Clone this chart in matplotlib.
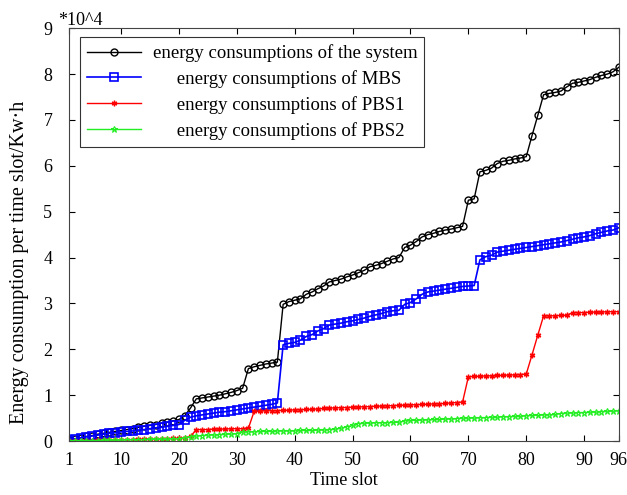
import numpy as np
import matplotlib.pyplot as plt
from matplotlib.ticker import FixedLocator

plt.rcParams['font.family'] = ['Liberation Serif', 'DejaVu Serif']

# time slots 1..96
t = np.arange(1, 97)

# energy values (x 10^4 Kw*h)
system = [0.03, 0.05, 0.07, 0.10, 0.12, 0.15, 0.17, 0.19, 0.21, 0.23,
          0.25, 0.27, 0.30, 0.32, 0.34, 0.36, 0.39, 0.41, 0.44, 0.47,
          0.55, 0.72, 0.92, 0.94, 0.96, 0.98, 1.00, 1.03, 1.06, 1.10,
          1.15, 1.58, 1.62, 1.65, 1.68, 1.70, 1.72, 2.98, 3.04, 3.07,
          3.10, 3.20, 3.25, 3.32, 3.38, 3.47, 3.50, 3.53, 3.58, 3.62,
          3.67, 3.72, 3.80, 3.83, 3.87, 3.92, 3.97, 4.00, 4.22, 4.27,
          4.35, 4.45, 4.50, 4.53, 4.57, 4.60, 4.62, 4.65, 4.68, 5.25,
          5.28, 5.87, 5.90, 5.95, 6.05, 6.10, 6.12, 6.15, 6.17, 6.20,
          6.66, 7.10, 7.55, 7.58, 7.60, 7.63, 7.72, 7.80, 7.82, 7.85,
          7.88, 7.93, 7.97, 8.00, 8.05, 8.15]

mbs = [0.03, 0.05, 0.07, 0.09, 0.11, 0.13, 0.15, 0.17, 0.18, 0.20,
       0.21, 0.22, 0.24, 0.25, 0.27, 0.29, 0.30, 0.32, 0.34, 0.36,
       0.45, 0.52, 0.55, 0.57, 0.59, 0.61, 0.63, 0.64, 0.66, 0.68,
       0.70, 0.72, 0.74, 0.76, 0.78, 0.80, 0.83, 2.10, 2.13, 2.15,
       2.20, 2.28, 2.32, 2.40, 2.45, 2.53, 2.55, 2.57, 2.60, 2.62,
       2.65, 2.68, 2.72, 2.75, 2.78, 2.82, 2.84, 2.85, 2.98, 3.02,
       3.10, 3.20, 3.25, 3.27, 3.29, 3.31, 3.33, 3.35, 3.37, 3.38,
       3.39, 3.95, 4.02, 4.05, 4.12, 4.14, 4.16, 4.18, 4.20, 4.22,
       4.24, 4.26, 4.28, 4.30, 4.32, 4.34, 4.37, 4.40, 4.43, 4.45,
       4.48, 4.52, 4.55, 4.58, 4.60, 4.65]

pbs1 = [0.00, 0.00, 0.01, 0.01, 0.01, 0.02, 0.02, 0.02, 0.02, 0.03,
        0.03, 0.03, 0.04, 0.04, 0.04, 0.05, 0.05, 0.05, 0.06, 0.06,
        0.07, 0.10, 0.25, 0.25, 0.25, 0.26, 0.26, 0.26, 0.27, 0.27,
        0.27, 0.28, 0.65, 0.65, 0.66, 0.66, 0.66, 0.67, 0.67, 0.68,
        0.68, 0.69, 0.69, 0.70, 0.71, 0.72, 0.72, 0.73, 0.73, 0.74,
        0.74, 0.75, 0.75, 0.76, 0.76, 0.77, 0.77, 0.78, 0.78, 0.79,
        0.79, 0.80, 0.80, 0.81, 0.81, 0.82, 0.83, 0.84, 0.85, 1.40,
        1.41, 1.41, 1.42, 1.42, 1.43, 1.43, 1.44, 1.44, 1.45, 1.46,
        1.88, 2.31, 2.73, 2.73, 2.73, 2.74, 2.74, 2.80, 2.80, 2.80,
        2.81, 2.81, 2.81, 2.82, 2.82, 2.82]

pbs2 = [0.00, 0.00, 0.01, 0.01, 0.01, 0.01, 0.02, 0.02, 0.02, 0.02,
        0.03, 0.03, 0.03, 0.03, 0.04, 0.04, 0.04, 0.04, 0.05, 0.05,
        0.07, 0.09, 0.11, 0.12, 0.13, 0.13, 0.14, 0.15, 0.15, 0.16,
        0.20, 0.20, 0.20, 0.21, 0.21, 0.21, 0.22, 0.22, 0.22, 0.22,
        0.23, 0.23, 0.23, 0.24, 0.24, 0.25, 0.26, 0.28, 0.31, 0.34,
        0.38, 0.39, 0.39, 0.40, 0.40, 0.40, 0.41, 0.41, 0.44, 0.45,
        0.45, 0.46, 0.46, 0.47, 0.47, 0.48, 0.48, 0.49, 0.50, 0.50,
        0.50, 0.51, 0.51, 0.52, 0.52, 0.53, 0.53, 0.54, 0.54, 0.55,
        0.56, 0.56, 0.57, 0.57, 0.58, 0.60, 0.61, 0.61, 0.62, 0.62,
        0.63, 0.63, 0.64, 0.65, 0.65, 0.66]

labels = ['energy consumptions of the system',
          '     energy consumptions of MBS',
          '     energy consumptions of PBS1',
          '     energy consumptions of PBS2']
xticks = [1, 10, 20, 30, 40, 50, 60, 70, 80, 90, 96]

fig = plt.figure(figsize=(6.27, 4.95), dpi=100)
ax = fig.add_axes([0.110, 0.109, 0.877, 0.834])

ax.plot(t, system, color='black', lw=1.0, marker='o', ms=5, mfc='none',
        mew=1.0, label=labels[0])
ax.plot(t, mbs, color='blue', lw=1.2, marker='s', ms=6, mfc='none',
        mew=1.2, label=labels[1])
ax.plot(t, pbs1, color='red', lw=1.0, marker=(6, 2, 0), ms=4,
        mew=1.0, label=labels[2])
ax.plot(t, pbs2, color='#22ee22', lw=1.0, marker='*', ms=5, mfc='none',
        mew=0.8, label=labels[3])

ax.set_xlim(1, 96)
ax.set_ylim(0, 9)
ax.xaxis.set_major_locator(FixedLocator(xticks))
ax.set_yticks(range(0, 10))
ax.tick_params(direction='in', top=True, right=True, labelsize=13,
               length=4, width=0.8)
ax.tick_params(axis='x', pad=8)
ax.tick_params(axis='y', pad=12)
for s in ax.spines.values():
    s.set_color('#444444')
    s.set_linewidth(0.8)

ax.set_xlabel('Time slot', fontsize=13, labelpad=2)
ax.set_ylabel('Energy consumption per time slot/Kw\u00b7h', fontsize=14.5)
ax.yaxis.set_label_coords(-0.073, 0.433)
ax.text(-0.02, 0.998, '*10^4', transform=ax.transAxes, fontsize=13,
        ha='left', va='bottom')

leg = ax.legend(loc='upper left', bbox_to_anchor=(0.02, 0.978), fontsize=13.5,
                frameon=True, fancybox=False, edgecolor='black',
                handlelength=2.9, labelspacing=0.42, borderpad=0.38,
                borderaxespad=0, handletextpad=0.6)
leg.get_frame().set_linewidth(0.8)

fig.savefig('out.png', dpi=100)
